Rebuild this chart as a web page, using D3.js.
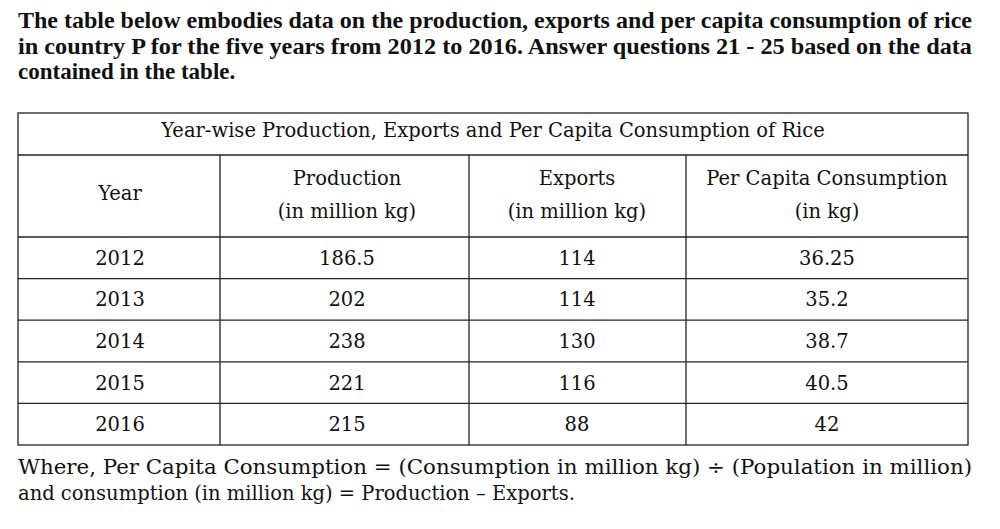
<!DOCTYPE html>
<meta charset="utf-8">
<title>Rice table</title>
<style>
  body { margin: 0; background: #fff; }
  text { font-family: "DejaVu Serif", "Liberation Serif", serif; fill: #111; }
  .intro { font-family: "Liberation Serif", serif; font-weight: bold; font-size: 23px; }
  .cell { font-size: 19.5px; text-anchor: middle; }
  .foot { font-size: 19.5px; }
  line, rect { stroke: #222; stroke-width: 1.3; }
</style>
<body>
<svg id="chart" width="1000" height="529"></svg>
<script src="https://cdn.jsdelivr.net/npm/d3@7"></script>
<script>
var years = ["2012", "2013", "2014", "2015", "2016"];
var production = ["186.5", "202", "238", "221", "215"];
var exportsKg = ["114", "114", "130", "116", "88"];
var perCapita = ["36.25", "35.2", "38.7", "40.5", "42"];
var headers = [["Year"], ["Production", "(in million kg)"], ["Exports", "(in million kg)"], ["Per Capita Consumption", "(in kg)"]];
var title = "Year-wise Production, Exports and Per Capita Consumption of Rice";
var introLines = [
  "The table below embodies data on the production, exports and per capita consumption of rice",
  "in country P for the five years from 2012 to 2016.  Answer questions 21 - 25 based on the data",
  "contained in the table."
];
var footLines = [
  "Where, Per Capita Consumption = (Consumption in million kg) \u00f7 (Population in million)",
  "and consumption (in million kg) = Production \u2013 Exports."
];

var svg = d3.select("#chart");
var left = 18, right = 968;

svg.selectAll(".intro").data(introLines).join("text")
  .attr("class", "intro")
  .attr("x", left)
  .attr("y", function(d, i) { return 28 + i * 25.5; })
  .attr("textLength", function(d, i) { return i < 2 ? 954 : null; })
  .attr("lengthAdjust", "spacingAndGlyphs")
  .text(function(d) { return d; });

var colEdges = [left, 220, 469, 686, right];
var colCenters = [120, 347, 577, 827];
var y = d3.scaleBand().domain(years).range([237, 445]);

svg.append("rect").attr("x", left).attr("y", 113)
  .attr("width", right - left).attr("height", 445 - 113).attr("fill", "none");
svg.append("line").attr("x1", left).attr("x2", right).attr("y1", 155).attr("y2", 155);
svg.selectAll(".hline").data(years).join("line")
  .attr("class", "hline")
  .attr("x1", left).attr("x2", right)
  .attr("y1", function(d) { return y(d); }).attr("y2", function(d) { return y(d); });
svg.selectAll(".vline").data(colEdges.slice(1, 4)).join("line")
  .attr("class", "vline")
  .attr("x1", function(d) { return d; }).attr("x2", function(d) { return d; })
  .attr("y1", 155).attr("y2", 445);

svg.append("text").attr("class", "cell").attr("x", 493).attr("y", 137).text(title);

headers.forEach(function(h, c) {
  h.forEach(function(t, k) {
    svg.append("text").attr("class", "cell")
      .attr("x", colCenters[c])
      .attr("y", h.length === 1 ? 200 : 185 + k * 33)
      .text(t);
  });
});

var cols = [years, production, exportsKg, perCapita];
cols.forEach(function(arr, c) {
  svg.selectAll(".c" + c).data(arr).join("text")
    .attr("class", "cell c" + c)
    .attr("x", colCenters[c])
    .attr("y", function(d, i) { return y(years[i]) + y.bandwidth() / 2 + 7; })
    .text(function(d) { return d; });
});

svg.selectAll(".foot").data(footLines).join("text")
  .attr("class", "foot")
  .attr("x", left)
  .attr("y", function(d, i) { return 474 + i * 26; })
  .attr("textLength", function(d, i) { return i === 0 ? 954 : null; })
  .attr("lengthAdjust", "spacingAndGlyphs")
  .text(function(d) { return d; });
</script>
</body>
